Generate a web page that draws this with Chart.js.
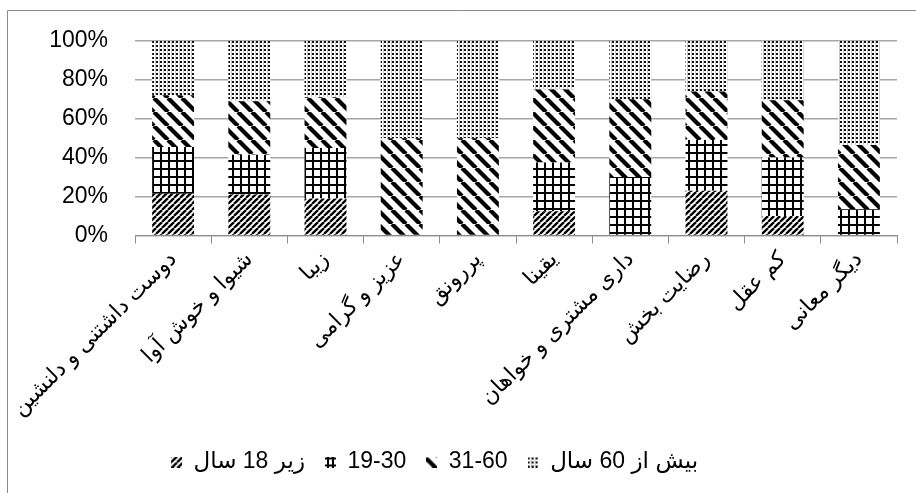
<!DOCTYPE html>
<html>
<head>
<meta charset="utf-8">
<script src="https://cdn.jsdelivr.net/npm/chart.js@4/dist/chart.umd.min.js"></script>
<style>
  html, body { margin: 0; padding: 0; background: #ffffff; }
  #wrap { width: 916px; height: 493px; position: relative; }
</style>
</head>
<body>
<div id="wrap"><canvas id="chart" width="916" height="493"></canvas></div>
<script>
// Meanings of the word, grouped by respondent age (share of answers, %)
const categories = [
  'دوست داشتنی و دلنشین',
  'شیوا و خوش آوا',
  'زیبا',
  'عزیز و گرامی',
  'پررونق',
  'یقینا',
  'داری مشتری و خواهان',
  'رضایت بخش',
  'کم عقل',
  'دیگر معانی'
];
const seriesNames = ['زیر 18 سال', '19-30', '31-60', 'بیش از 60 سال'];
const under18   = [21.5, 21,   19, 0,  0,  12.5, 0,  23, 10,   0];
const age19to30 = [24,   20.5, 26, 0,  0,  25,   30, 26, 30,   13.5];
const age31to60 = [26.5, 27.5, 26, 50, 50, 37.5, 40, 25, 29.5, 33];
const over60    = [28,   31,   29, 50, 50, 25,   30, 26, 30.5, 53.5];
const yTicks = [0, 20, 40, 60, 80, 100];

const LATIN = '"Liberation Sans", "DejaVu Sans", sans-serif';
const canvas = document.getElementById('chart');
const ctx = canvas.getContext('2d');

// Monochrome hatch fills
function tile(w, h, paint) {
  const c = document.createElement('canvas');
  c.width = w; c.height = h;
  const g = c.getContext('2d');
  g.fillStyle = '#ffffff';
  g.fillRect(0, 0, w, h);
  g.fillStyle = '#000000';
  g.strokeStyle = '#000000';
  paint(g, w, h);
  return c;
}
function upDiag(s, lw) {
  return tile(s, s, (g) => {
    g.lineWidth = lw;
    for (let k = -1; k <= 1; k++) {
      g.beginPath();
      g.moveTo(k * s, s);
      g.lineTo(k * s + s, 0);
      g.stroke();
    }
  });
}
function downDiag(s, lw) {
  return tile(s, s, (g) => {
    g.lineWidth = lw;
    for (let k = -1; k <= 1; k++) {
      g.beginPath();
      g.moveTo(k * s, 0);
      g.lineTo(k * s + s, s);
      g.stroke();
    }
  });
}
const pat = (c) => ctx.createPattern(c, 'repeat');
const fillUnder18 = pat(upDiag(6, 2.3));
const fill19to30 = pat(tile(8, 8, (g) => {
  g.fillRect(0, 0, 8, 2);
  g.fillRect(0, 0, 2, 8);
}));
const fill31to60 = pat(downDiag(14, 4.2));
const fillOver60 = pat(tile(4, 4, (g) => {
  g.fillStyle = '#c8c8c8';
  g.fillRect(3, 0, 1, 4);
  g.fillStyle = '#111111';
  g.fillRect(0, 1, 2, 2);
}));
const fills = [fillUnder18, fill19to30, fill31to60, fillOver60];

// Small legend swatches
function swatch(fill, size, dx, dy) {
  const c = document.createElement('canvas');
  c.width = size; c.height = size;
  const g = c.getContext('2d');
  g.translate(dx, dy);
  g.fillStyle = fill;
  g.fillRect(-dx, -dy, size, size);
  return c;
}
const gridSwatch = tile(11, 11, (g) => {
  g.fillRect(0, 1, 11, 2);
  g.fillRect(0, 8, 11, 2);
  g.fillRect(2, 0, 2, 11);
  g.fillRect(7, 0, 2, 11);
});
const swatches = [
  swatch(fillUnder18, 11, 0, 0),
  gridSwatch,
  swatch(fill31to60, 11, -1, 1),
  swatch(fillOver60, 11, 0, 0)
];

// Outer frame of the chart
const framePlugin = {
  id: 'frame',
  afterDraw(chart) {
    const c = chart.ctx;
    c.save();
    c.strokeStyle = '#8c8c8c';
    c.lineWidth = 1;
    c.beginPath();
    c.moveTo(7.5, chart.height);
    c.lineTo(7.5, 10.5);
    c.lineTo(chart.width, 10.5);
    c.stroke();
    c.restore();
  }
};

function ds(label, data, fill) {
  return {
    label, data,
    backgroundColor: fill,
    borderWidth: 0,
    barPercentage: 0.55,
    categoryPercentage: 1.0
  };
}

const PAD_LEFT = -28;
const seriesValues = [under18, age19to30, age31to60, over60];

new Chart(canvas, {
  type: 'bar',
  data: {
    labels: categories,
    datasets: seriesNames.map((n, i) => ds(n, seriesValues[i], fills[i]))
  },
  options: {
    responsive: false,
    animation: false,
    events: [],
    layout: { padding: { left: PAD_LEFT, right: 19, top: 39, bottom: 9.5 } },
    plugins: {
      legend: {
        position: 'bottom',
        labels: {
          usePointStyle: true,
          boxWidth: 11,
          boxHeight: 11,
          padding: 20,
          color: '#000000',
          font: { family: LATIN, size: 23 },
          generateLabels(chart) {
            const items = Chart.defaults.plugins.legend.labels.generateLabels(chart);
            items.forEach((it, i) => {
              it.pointStyle = swatches[i];
              it.lineWidth = 0;
            });
            return items;
          }
        }
      },
      tooltip: { enabled: false }
    },
    scales: {
      x: {
        stacked: true,
        grid: { drawOnChartArea: false, drawTicks: true, tickLength: 8, color: '#8c8c8c', lineWidth: 1 },
        border: { display: true, color: '#8c8c8c', width: 1 },
        ticks: {
          autoSkip: false,
          minRotation: 45,
          maxRotation: 45,
          color: '#000000',
          font: { family: LATIN, size: 22 }
        },
        afterFit(scale) { scale.height = 195; }
      },
      y: {
        stacked: true,
        min: 0,
        max: 100,
        grid: { color: '#a6a6a6', lineWidth: 1.5, drawTicks: false },
        border: { display: false },
        ticks: {
          padding: 27,
          color: '#000000',
          font: { family: LATIN, size: 23 },
          callback: (v) => v + '%'
        },
        afterBuildTicks(scale) { scale.ticks = yTicks.map((v) => ({ value: v })); },
        afterFit(scale) { scale.width = 135 - PAD_LEFT; }
      }
    }
  },
  plugins: [framePlugin]
});
</script>
</body>
</html>
